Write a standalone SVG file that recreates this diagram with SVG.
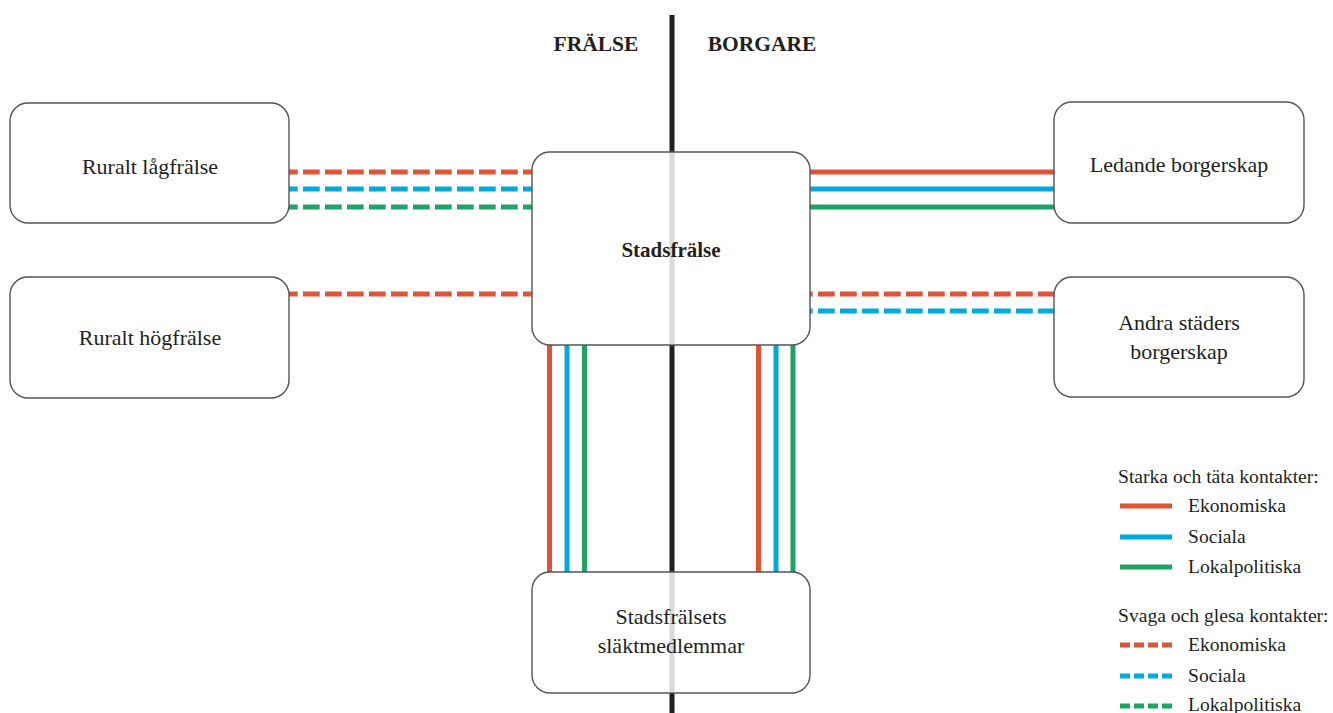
<svg xmlns="http://www.w3.org/2000/svg" width="1333" height="713" viewBox="0 0 1333 713">
<style>
.box{fill:#fff;stroke:#555;stroke-width:1.4}
.t{font-family:"Liberation Serif",serif;font-size:22px;fill:#231f20;text-anchor:middle}
.h{font-family:"Liberation Serif",serif;font-size:21.5px;font-weight:bold;fill:#231f20;text-anchor:middle}
.lg{font-family:"Liberation Serif",serif;font-size:19.6px;fill:#231f20}
.r{stroke:#de5434;stroke-width:5;fill:none}
.b{stroke:#00a9de;stroke-width:5;fill:none}
.g{stroke:#1ea464;stroke-width:5;fill:none}
.d{stroke-dasharray:16.7 5.3}
.dl{stroke-dasharray:10 4}
.axis{stroke:#231f20;stroke-width:5}
.axisin{stroke:#d9d9d9;stroke-width:5}
</style>
<rect width="1333" height="713" fill="#fff"/>
<line id="axis" class="axis" x1="672" y1="15" x2="672" y2="713"/>
<text class="h" x="596" y="51">FRÄLSE</text>
<text class="h" x="762" y="51">BORGARE</text>
<g id="connectors">
<line class="r d" x1="289" y1="172" x2="532" y2="172" stroke-dashoffset="8"/>
<line class="b d" x1="289" y1="189" x2="532" y2="189" stroke-dashoffset="8"/>
<line class="g d" x1="289" y1="207" x2="532" y2="207" stroke-dashoffset="8"/>
<line class="r d" x1="289" y1="294" x2="532" y2="294" stroke-dashoffset="8"/>
<line class="r" x1="810" y1="172" x2="1054" y2="172"/>
<line class="b" x1="810" y1="189" x2="1054" y2="189"/>
<line class="g" x1="810" y1="207" x2="1054" y2="207"/>
<line class="r d" x1="810" y1="294" x2="1054" y2="294" stroke-dashoffset="14"/>
<line class="b d" x1="810" y1="311" x2="1054" y2="311" stroke-dashoffset="14"/>
<line class="r" x1="549.5" y1="345" x2="549.5" y2="572"/>
<line class="b" x1="567" y1="345" x2="567" y2="572"/>
<line class="g" x1="584.5" y1="345" x2="584.5" y2="572"/>
<line class="r" x1="758.5" y1="345" x2="758.5" y2="572"/>
<line class="b" x1="776" y1="345" x2="776" y2="572"/>
<line class="g" x1="793" y1="345" x2="793" y2="572"/>
</g>
<g id="ruralt-lagfralse">
<rect class="box" x="10" y="103" width="279" height="120" rx="18"/>
<text class="t" x="150" y="174">Ruralt lågfrälse</text>
</g>
<g id="ruralt-hogfralse">
<rect class="box" x="10" y="277" width="279" height="121" rx="18"/>
<text class="t" x="150" y="345">Ruralt högfrälse</text>
</g>
<g id="ledande-borgerskap">
<rect class="box" x="1054" y="102" width="250" height="121" rx="18"/>
<text class="t" x="1179" y="172">Ledande borgerskap</text>
</g>
<g id="andra-staders">
<rect class="box" x="1054" y="277" width="250" height="120" rx="18"/>
<text class="t" x="1179" y="330">Andra städers</text>
<text class="t" x="1179" y="359">borgerskap</text>
</g>
<g id="stadsfralse">
<rect class="box" x="532" y="152" width="278" height="193" rx="18"/>
<line class="axisin" x1="672" y1="153" x2="672" y2="344"/>
<text class="h" x="671" y="257" style="font-size:21px">Stadsfrälse</text>
</g>
<g id="slaktmedlemmar">
<rect class="box" x="532" y="572" width="278" height="121" rx="18"/>
<line class="axisin" x1="672" y1="573" x2="672" y2="692"/>
<text class="t" x="671" y="624">Stadsfrälsets</text>
<text class="t" x="671" y="653">släktmedlemmar</text>
</g>
<g id="legend">
<text class="lg" x="1118" y="483">Starka och täta kontakter:</text>
<line class="r" x1="1120" y1="506" x2="1172" y2="506"/>
<text class="lg" x="1188" y="512">Ekonomiska</text>
<line class="b" x1="1120" y1="537" x2="1172" y2="537"/>
<text class="lg" x="1188" y="543">Sociala</text>
<line class="g" x1="1120" y1="567" x2="1172" y2="567"/>
<text class="lg" x="1188" y="573">Lokalpolitiska</text>
<text class="lg" x="1118" y="622">Svaga och glesa kontakter:</text>
<line class="r dl" x1="1120" y1="645" x2="1172" y2="645"/>
<text class="lg" x="1188" y="651">Ekonomiska</text>
<line class="b dl" x1="1120" y1="676" x2="1172" y2="676"/>
<text class="lg" x="1188" y="682">Sociala</text>
<line class="g dl" x1="1120" y1="706" x2="1172" y2="706"/>
<text class="lg" x="1188" y="711">Lokalpolitiska</text>
</g>
</svg>
